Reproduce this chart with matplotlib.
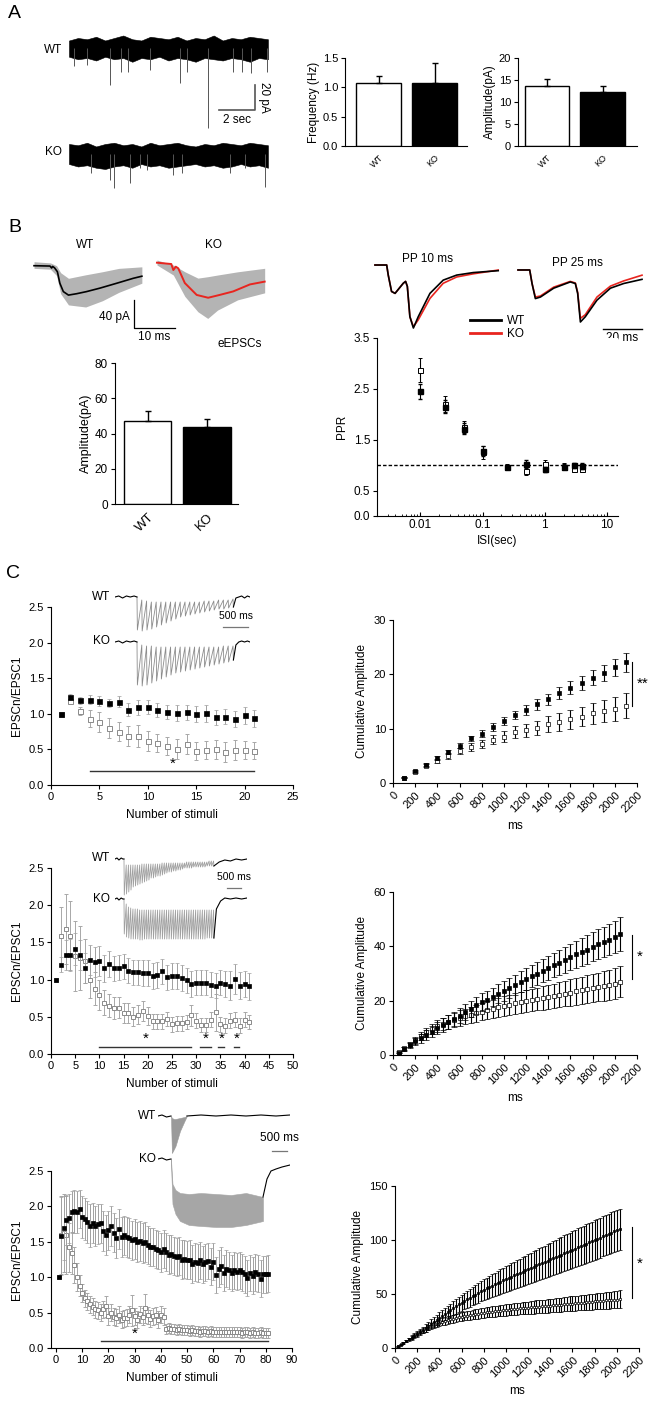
import numpy as np
import matplotlib
matplotlib.use('Agg')
import matplotlib.pyplot as plt
from matplotlib.lines import Line2D
from matplotlib.ticker import NullFormatter, LogLocator

plt.rcParams['font.family'] = ['Liberation Sans', 'DejaVu Sans']
plt.rcParams['axes.linewidth'] = 0.8
for a in ('x', 'y'):
    plt.rcParams[a + 'tick.major.width'] = 0.8
    plt.rcParams[a + 'tick.major.size'] = 3
    plt.rcParams[a + 'tick.direction'] = 'out'
    plt.rcParams[a + 'tick.major.pad'] = 2

W, H = 652, 1401
fig = plt.figure(figsize=(W / 100, H / 100), dpi=100)


def px_axes(x0, y0, x1, y1):
    return fig.add_axes([x0 / W, 1 - y1 / H, (x1 - x0) / W, (y1 - y0) / H])


def ftext(x, y, s, **kw):
    fig.text(x / W, 1 - y / H, s, **kw)


def style(ax, fs=8):
    ax.spines['top'].set_visible(False)
    ax.spines['right'].set_visible(False)
    ax.tick_params(labelsize=fs)


# ======================= DATA =======================
groups = ['WT', 'KO']
# Panel A
a_freq = [1.07, 1.07]
a_freq_err = [0.13, 0.34]
a_amp = [13.7, 12.3]
a_amp_err = [1.6, 1.3]
a_time = [0, 0.5, 1, 1.5, 2, 2.5, 3, 3.5, 4, 4.5, 5, 5.5, 6, 6.5, 7, 7.5, 8, 8.5, 9, 9.5, 10, 10.5, 11]
a_wt_upper = [6, 8, 7, 9, 6, 8, 10, 7, 6, 9, 8, 7, 9, 6, 8, 7, 10, 6, 8, 7, 9, 8, 7]
a_wt_lower = [-7, -9, -8, -10, -7, -9, -8, -11, -8, -9, -7, -10, -8, -9, -11, -8, -9, -10, -8, -9, -11, -8, -9]
a_ko_upper = [8, 7, 9, 6, 8, 9, 7, 8, 6, 9, 7, 8, 9, 7, 6, 8, 7, 9, 8, 7, 9, 8, 7]
a_ko_lower = [-8, -10, -9, -11, -12, -10, -9, -11, -8, -10, -9, -11, -10, -9, -8, -10, -9, -11, -10, -8, -10, -9, -11]
a_wt_spike_t = [0.3, 1.0, 2.27, 2.87, 3.26, 4.48, 6.13, 6.52, 7.68, 9.06, 9.56, 10.06, 10.94]
a_wt_spike_amp = [-14, -13.6, -29.6, -19.2, -19.2, -17.6, -28, -19, -64, -19, -19, -20, -19]
a_ko_spike_t = [1.22, 2.27, 2.49, 3.37, 3.92, 4.31, 5.75, 6.24, 8.9, 9.72, 10.83]
a_ko_spike_amp = [-15, -21, -27, -23, -11, -13, -17, -15, -15, -11, -26]

# Panel B eEPSC traces (ms, pA)
b_wt_t = [0, 3.9, 4.3, 4.55, 5.0, 5.7, 6.3, 7.15, 8.4, 10.4, 12.8, 16.1, 20.2, 24.2, 26.3]
b_wt_i = [0, -0.5, -3.3, -1.0, -3, -8.6, -25, -37, -42, -40, -37, -32, -25, -18, -15]
b_wt_env_t = [0, 4, 5.5, 6.5, 8.4, 12.6, 16.7, 20.7, 26.3]
b_wt_env_hi = [5.7, 4, 0, -10, -18, -13, -8.6, -3.8, -1.6]
b_wt_env_lo = [-3.8, -5, -14, -40, -56, -59, -50, -38, -25]
b_ko_t = [0, 3.5, 4.0, 4.6, 5.2, 6.8, 9.7, 12.5, 15.3, 18.6, 22.7, 26.3]
b_ko_i = [0, -1.9, -10.5, -5.7, -8, -29, -46, -50, -46, -41, -31, -27]
b_ko_env_t = [0, 4.0, 6.8, 10.0, 12.4, 14.8, 19.7, 26.3]
b_ko_env_hi = [3.8, -3.3, -12.9, -22, -20, -17.6, -13, -8]
b_ko_env_lo = [-3.3, -17.6, -48, -70, -79.5, -67.6, -53, -43]
b_amp = [47, 43.5]
b_amp_err = [6, 5]

# paired-pulse traces (ms, normalised)
pp10_t = [0, 6, 6.8, 8.5, 10.3, 14.5, 15.7, 16.6, 17.9, 19.7, 22.2, 28.2, 35, 41.9, 50.4, 63.2]
pp10_wt = [0, 0, -0.16, -0.42, -0.45, -0.29, -0.26, -0.34, -0.82, -1.0, -0.82, -0.45, -0.24, -0.16, -0.12, -0.09]
pp10_ko = [0, 0, -0.16, -0.42, -0.45, -0.29, -0.26, -0.34, -0.82, -0.98, -0.87, -0.53, -0.29, -0.19, -0.14, -0.08]
pp25_t = [0, 6, 7.2, 8.9, 11.5, 18.3, 26.8, 29.4, 30.6, 32, 34.5, 40.5, 47.4, 54.2, 63.6]
pp25_wt = [0, 0, -0.26, -0.55, -0.52, -0.35, -0.23, -0.26, -0.45, -1.0, -0.9, -0.58, -0.35, -0.26, -0.18]
pp25_ko = [0, 0, -0.26, -0.52, -0.50, -0.33, -0.22, -0.25, -0.43, -0.93, -0.86, -0.52, -0.31, -0.21, -0.10]

# PPR
ppr_isi = [0.01, 0.025, 0.05, 0.1, 0.25, 0.5, 1, 2, 3, 4]
ppr_wt = [2.45, 2.15, 1.72, 1.28, 0.97, 1.03, 0.92, 0.97, 1.00, 0.98]
ppr_wt_err = [0.15, 0.13, 0.10, 0.10, 0.04, 0.07, 0.05, 0.05, 0.05, 0.06]
ppr_ko = [2.87, 2.20, 1.75, 1.25, 0.97, 0.88, 1.03, 0.97, 0.93, 0.93]
ppr_ko_err = [0.24, 0.15, 0.12, 0.12, 0.05, 0.07, 0.08, 0.07, 0.06, 0.06]

# Panel C, 10 Hz
c1_wt = [1.0, 1.24, 1.19, 1.20, 1.18, 1.15, 1.17, 1.06, 1.09, 1.10, 1.05, 1.03, 1.01, 1.02, 1.00, 1.01, 0.95, 0.96, 0.93, 0.98, 0.94]
c1_wt_err = [0, 0.04, 0.05, 0.06, 0.07, 0.06, 0.08, 0.09, 0.10, 0.10, 0.10, 0.10, 0.11, 0.11, 0.11, 0.12, 0.11, 0.11, 0.11, 0.12, 0.12]
c1_ko = [1.0, 1.18, 1.04, 0.93, 0.88, 0.80, 0.75, 0.69, 0.69, 0.62, 0.59, 0.55, 0.51, 0.57, 0.48, 0.49, 0.50, 0.47, 0.49, 0.49, 0.48]
c1_ko_err = [0, 0.03, 0.06, 0.12, 0.14, 0.14, 0.13, 0.14, 0.15, 0.14, 0.13, 0.13, 0.14, 0.14, 0.13, 0.13, 0.13, 0.14, 0.14, 0.13, 0.12]
c1_cum_t = [100, 200, 300, 400, 500, 600, 700, 800, 900, 1000, 1100, 1200, 1300, 1400, 1500, 1600, 1700, 1800, 1900, 2000, 2100]
c1_cum_wt = [1.0, 2.15, 3.4, 4.6, 5.7, 6.9, 8.2, 9.1, 10.3, 11.4, 12.5, 13.4, 14.5, 15.4, 16.5, 17.5, 18.4, 19.4, 20.3, 21.3, 22.2]
c1_cum_wt_err = [0.1, 0.2, 0.3, 0.3, 0.4, 0.5, 0.5, 0.6, 0.7, 0.7, 0.8, 0.9, 1.0, 1.0, 1.1, 1.2, 1.3, 1.4, 1.5, 1.6, 1.7]
c1_cum_ko = [1.0, 2.1, 3.2, 4.1, 5.0, 5.9, 6.6, 7.2, 8.0, 8.5, 9.3, 9.7, 10.1, 10.8, 11.2, 11.7, 12.2, 12.8, 13.2, 13.7, 14.2]
c1_cum_ko_err = [0.1, 0.2, 0.3, 0.4, 0.5, 0.6, 0.7, 0.8, 0.9, 1.0, 1.1, 1.2, 1.3, 1.5, 1.6, 1.7, 1.8, 1.9, 2.0, 2.2, 2.3]

# Panel C, 20 Hz
c2_wt = [1.0, 1.20, 1.33, 1.33, 1.41, 1.33, 1.16, 1.26, 1.24, 1.25,
         1.15, 1.21, 1.15, 1.16, 1.18, 1.12, 1.10, 1.10, 1.09, 1.09,
         1.05, 1.06, 1.11, 1.03, 1.05, 1.05, 1.02, 0.99, 0.94, 0.96,
         0.96, 0.96, 0.93, 0.92, 0.96, 0.94, 0.92, 1.01, 0.92, 0.94, 0.91]
c2_wt_err = [0, 0.10, 0.20, 0.22, 0.22, 0.20, 0.20, 0.20, 0.20, 0.20,
             0.18, 0.18, 0.17, 0.17, 0.17, 0.17, 0.17, 0.17, 0.17, 0.17,
             0.17, 0.17, 0.17, 0.17, 0.17, 0.17, 0.17, 0.17, 0.17, 0.17,
             0.17, 0.17, 0.17, 0.17, 0.17, 0.17, 0.20, 0.20, 0.18, 0.18, 0.18]
c2_ko = [1.0, 1.58, 1.68, 1.59, 1.32, 1.29, 1.25, 1.00, 0.88, 0.79,
         0.69, 0.65, 0.62, 0.62, 0.55, 0.55, 0.50, 0.53, 0.58, 0.51,
         0.44, 0.44, 0.44, 0.47, 0.40, 0.41, 0.41, 0.43, 0.52, 0.45,
         0.39, 0.39, 0.46, 0.56, 0.40, 0.38, 0.45, 0.46, 0.38, 0.46, 0.43]
c2_ko_err = [0, 0.40, 0.47, 0.46, 0.47, 0.43, 0.30, 0.25, 0.22, 0.20,
             0.17, 0.15, 0.15, 0.14, 0.13, 0.13, 0.13, 0.13, 0.13, 0.12,
             0.10, 0.10, 0.10, 0.10, 0.10, 0.10, 0.10, 0.10, 0.14, 0.10,
             0.10, 0.10, 0.10, 0.25, 0.10, 0.10, 0.10, 0.10, 0.10, 0.10, 0.10]
c2_cum_wt = [0.9, 2.2, 3.6, 5.0, 6.1, 7.3, 8.6, 10.0, 11.0, 12.2,
             13.2, 14.4, 15.8, 17.0, 18.3, 19.5, 20.4, 21.4, 22.6, 23.6,
             24.8, 25.8, 27.0, 28.0, 29.0, 30.0, 31.1, 32.1, 33.1, 34.0,
             35.0, 36.0, 37.0, 37.9, 38.8, 39.8, 40.7, 41.6, 42.5, 43.5, 44.5]
c2_cum_wt_err = [0.3, 0.6, 1.0, 1.3, 1.6, 1.9, 2.1, 2.3, 2.5, 2.6,
                 2.7, 2.8, 2.9, 3.0, 3.1, 3.2, 3.3, 3.4, 3.5, 3.6,
                 3.7, 3.8, 3.9, 4.0, 4.1, 4.2, 4.3, 4.4, 4.5, 4.6,
                 4.7, 4.8, 4.9, 5.0, 5.2, 5.3, 5.5, 5.6, 5.8, 6.0, 6.2]
c2_cum_ko = [1.0, 2.4, 4.0, 5.4, 6.9, 8.3, 9.6, 10.6, 11.4, 12.2,
             12.9, 13.6, 14.2, 14.8, 15.4, 16.0, 16.5, 17.0, 17.5, 18.0,
             18.5, 19.0, 19.4, 19.8, 20.2, 20.6, 21.0, 21.4, 21.8, 22.2,
             22.6, 23.0, 23.4, 23.8, 24.2, 24.6, 25.0, 25.4, 25.8, 26.3, 26.9]
c2_cum_ko_err = [0.3, 0.6, 0.9, 1.2, 1.5, 1.7, 1.9, 2.1, 2.3, 2.5,
                 2.6, 2.8, 2.9, 3.0, 3.1, 3.2, 3.3, 3.4, 3.5, 3.6,
                 3.7, 3.8, 3.9, 4.0, 4.1, 4.2, 4.3, 4.4, 4.5, 4.6,
                 4.7, 4.8, 4.9, 5.0, 5.1, 5.2, 5.3, 5.4, 5.5, 5.6, 5.7]

# Panel C, 40 Hz
c3_wt = [1.00, 1.58, 1.70, 1.81, 1.83, 1.92, 1.93, 1.92, 1.96, 1.85,
         1.82, 1.78, 1.73, 1.77, 1.72, 1.75, 1.76, 1.65, 1.60, 1.66,
         1.72, 1.63, 1.55, 1.68, 1.57, 1.59, 1.57, 1.55, 1.52, 1.54,
         1.50, 1.51, 1.48, 1.50, 1.45, 1.43, 1.43, 1.40, 1.38, 1.35,
         1.40, 1.36, 1.32, 1.33, 1.30, 1.28, 1.30, 1.25, 1.26, 1.24,
         1.25, 1.19, 1.22, 1.20, 1.24, 1.18, 1.21, 1.23, 1.15, 1.22,
         1.03, 1.12, 1.16, 1.06, 1.12, 1.10, 1.06, 1.10, 1.08, 1.10,
         1.07, 1.04, 0.99, 1.06, 1.02, 1.07, 1.05, 0.98, 1.04, 1.04, 1.05]
c3_wt_err = [0, 0.55, 0.45, 0.35, 0.35, 0.30, 0.30, 0.30, 0.27, 0.30,
             0.30, 0.30, 0.30, 0.28, 0.28, 0.28, 0.28, 0.28, 0.28, 0.28,
             0.28, 0.28, 0.28, 0.28, 0.28, 0.28, 0.28, 0.28, 0.28, 0.28,
             0.28, 0.28, 0.28, 0.28, 0.27, 0.27, 0.27, 0.27, 0.27, 0.27,
             0.27, 0.27, 0.27, 0.27, 0.27, 0.27, 0.27, 0.27, 0.27, 0.27,
             0.27, 0.27, 0.27, 0.27, 0.26, 0.26, 0.26, 0.26, 0.26, 0.26,
             0.26, 0.26, 0.26, 0.26, 0.26, 0.26, 0.26, 0.26, 0.26, 0.26,
             0.26, 0.26, 0.26, 0.26, 0.26, 0.26, 0.26, 0.26, 0.26, 0.26, 0.26]
c3_ko = [1.00, 1.60, 1.62, 1.60, 1.42, 1.34, 1.17, 1.00, 0.88, 0.78,
         0.70, 0.66, 0.62, 0.58, 0.55, 0.53, 0.50, 0.55, 0.59, 0.45,
         0.50, 0.44, 0.43, 0.47, 0.40, 0.42, 0.43, 0.47, 0.53, 0.45,
         0.40, 0.48, 0.44, 0.56, 0.46, 0.41, 0.45, 0.46, 0.40, 0.47,
         0.44, 0.27, 0.28, 0.27, 0.27, 0.26, 0.27, 0.26, 0.25, 0.25,
         0.24, 0.25, 0.24, 0.24, 0.23, 0.24, 0.24, 0.23, 0.24, 0.23,
         0.23, 0.22, 0.23, 0.22, 0.23, 0.22, 0.22, 0.23, 0.22, 0.22,
         0.21, 0.22, 0.22, 0.21, 0.22, 0.21, 0.21, 0.22, 0.21, 0.21, 0.21]
c3_ko_err = [0, 0.55, 0.55, 0.55, 0.35, 0.30, 0.25, 0.20, 0.15, 0.13,
             0.12, 0.12, 0.12, 0.12, 0.12, 0.12, 0.12, 0.12, 0.15, 0.12,
             0.12, 0.12, 0.12, 0.12, 0.12, 0.12, 0.12, 0.12, 0.22, 0.12,
             0.12, 0.12, 0.12, 0.20, 0.12, 0.12, 0.12, 0.12, 0.12, 0.12,
             0.12, 0.07, 0.07, 0.07, 0.07, 0.07, 0.07, 0.07, 0.07, 0.07,
             0.07, 0.07, 0.07, 0.07, 0.07, 0.07, 0.07, 0.07, 0.07, 0.07,
             0.07, 0.07, 0.07, 0.07, 0.07, 0.07, 0.07, 0.07, 0.07, 0.07,
             0.07, 0.07, 0.07, 0.07, 0.07, 0.07, 0.07, 0.07, 0.07, 0.07, 0.07]
c3_cum_wt = [1.6, 3.2, 4.9, 6.5, 8.1, 9.7, 11.3, 13.0, 14.9, 16.7,
             18.6, 20.5, 22.4, 24.2, 26.1, 28.0, 29.8, 31.5, 33.3, 35.0,
             36.8, 38.5, 40.3, 42.0, 43.5, 45.0, 46.5, 48.0, 49.5, 51.0,
             52.5, 54.0, 55.2, 56.5, 57.7, 59.0, 60.2, 61.5, 62.7, 64.0,
             65.1, 66.2, 67.4, 68.5, 69.6, 70.7, 71.9, 73.0, 74.1, 75.2,
             76.4, 77.5, 78.6, 79.7, 80.9, 82.0, 83.1, 84.2, 85.4, 86.5,
             87.6, 88.7, 89.9, 91.0, 92.1, 93.2, 94.4, 95.5, 96.6, 97.7,
             98.9, 100.0, 101.1, 102.2, 103.4, 104.5, 105.6, 106.7, 107.9, 109.0, 110.0]
c3_cum_wt_err = [0.3, 0.6, 1.0, 1.3, 1.6, 1.9, 2.2, 2.5, 2.8, 3.1,
                 3.4, 3.7, 4.0, 4.3, 4.6, 4.9, 5.2, 5.5, 5.8, 6.1,
                 6.4, 6.7, 7.0, 7.3, 7.6, 7.9, 8.2, 8.5, 8.8, 9.1,
                 9.4, 9.7, 10.0, 10.2, 10.5, 10.7, 11.0, 11.2, 11.5, 11.7,
                 12.0, 12.2, 12.5, 12.7, 13.0, 13.2, 13.5, 13.7, 14.0, 14.2,
                 14.5, 14.7, 15.0, 15.2, 15.4, 15.6, 15.8, 16.0, 16.2, 16.4,
                 16.6, 16.8, 17.0, 17.2, 17.3, 17.5, 17.6, 17.8, 17.9, 18.1,
                 18.2, 18.3, 18.4, 18.5, 18.6, 18.7, 18.8, 18.9, 19.0, 19.0, 19.1]
c3_cum_ko = [1.6, 3.3, 4.9, 6.6, 8.2, 9.8, 11.4, 13.0, 14.5, 16.0,
             17.4, 18.8, 20.0, 21.2, 22.3, 23.3, 24.2, 25.0, 25.8, 26.5,
             27.2, 27.8, 28.4, 29.0, 29.5, 30.0, 30.5, 31.0, 31.4, 31.8,
             32.2, 32.6, 33.0, 33.3, 33.6, 34.0, 34.3, 34.6, 34.9, 35.2,
             35.5, 35.8, 36.0, 36.3, 36.6, 36.8, 37.1, 37.3, 37.6, 37.8,
             38.1, 38.3, 38.6, 38.8, 39.0, 39.3, 39.5, 39.8, 40.0, 40.2,
             40.5, 40.7, 41.0, 41.2, 41.4, 41.7, 41.9, 42.1, 42.4, 42.6,
             42.8, 43.1, 43.3, 43.5, 43.8, 44.0, 44.2, 44.5, 44.7, 44.9, 45.2]
c3_cum_ko_err = [0.3, 0.5, 0.7, 0.9, 1.1, 1.3, 1.5, 1.7, 1.9, 2.1,
                 2.3, 2.5, 2.7, 2.8, 2.9, 3.0, 3.2, 3.3, 3.4, 3.5,
                 3.6, 3.7, 3.8, 3.9, 4.0, 4.1, 4.2, 4.3, 4.4, 4.5,
                 4.6, 4.6, 4.7, 4.8, 4.9, 4.9, 5.0, 5.1, 5.1, 5.2,
                 5.3, 5.3, 5.4, 5.5, 5.5, 5.6, 5.7, 5.7, 5.8, 5.9,
                 5.9, 6.0, 6.1, 6.1, 6.2, 6.3, 6.3, 6.4, 6.5, 6.5,
                 6.6, 6.7, 6.7, 6.8, 6.9, 6.9, 7.0, 7.1, 7.1, 7.2,
                 7.3, 7.3, 7.4, 7.5, 7.5, 7.6, 7.7, 7.8, 7.9, 8.0, 8.1]

# inset train traces (ms, pA-like units; depth below baseline per stimulus)
c1_tr_wt_trough = [33, 34, 33, 32, 30, 28, 26, 24, 22, 20, 19, 18, 17, 16, 15, 14, 13, 12, 12, 11, 10]
c1_tr_wt_peak = [0, 3, 4, 5, 5, 5, 5, 5, 5, 5, 5, 5, 5, 5, 4, 4, 4, 3, 3, 3, 2]
c1_tr_ko_trough = [43, 44, 43, 41, 39, 37, 35, 33, 31, 30, 29, 28, 27, 26, 25, 24, 23, 22, 21, 20, 18]
c1_tr_ko_peak = [0, 3, 4, 4, 5, 5, 5, 5, 5, 5, 5, 5, 5, 5, 5, 5, 5, 5, 4, 4, 4]
c2_tr_wt_trough = [36, 35, 33, 31, 28, 27, 26, 25, 24, 23, 22, 21, 19, 19, 18, 17, 17, 16, 15, 14,
                   13, 13, 12, 12, 11, 11, 10, 9, 9, 9, 9, 8, 8, 8, 8, 8, 8, 7, 7, 7, 7]
c2_tr_wt_peak = [0, 6, 6, 6, 6, 6, 6, 6, 5, 5, 5, 5, 5, 5, 5, 5, 5, 4, 4, 4,
                 4, 4, 4, 4, 4, 4, 4, 4, 3, 3, 3, 3, 3, 3, 3, 3, 3, 3, 2, 2, 2]
c2_tr_ko_trough = [35, 38, 39, 40, 40, 40, 40, 41, 41, 40, 40, 40, 40, 40, 40, 40, 40, 40, 40, 40,
                   40, 40, 40, 40, 40, 40, 40, 40, 40, 40, 40, 40, 40, 40, 40, 40, 40, 39, 39, 39, 39]
c2_tr_ko_peak = [0, 5, 8, 9, 10, 10, 10, 11, 11, 11, 11, 11, 11, 11, 11, 11, 11, 11, 11, 11,
                 11, 11, 11, 11, 11, 11, 11, 11, 11, 11, 11, 11, 11, 11, 11, 11, 11, 11, 11, 11, 11]
c3_wt_env_t = [0, 30, 100, 150, 300, 450, 530]
c3_wt_env_hi = [0, -2, -3, -3, -2, -1, 0]
c3_wt_env_lo = [0, -37, -33, -30, -15, -5, 0]
c3_ko_env_t = [0, 50, 150, 300, 600, 1000, 1500, 2000, 2500, 3067]
c3_ko_env_hi = [0, -25, -31, -34, -35, -34, -35, -36, -34, -38]
c3_ko_env_lo = [-5, -45, -55, -62, -66, -67, -68, -68, -66, -62]

# ======================= PANEL A =======================
ftext(8, 14, 'A', fontsize=14, va='center')


def noisy_trace(ax, upper, lower, spk_t, spk_a):
    ax.fill_between(a_time, lower, upper, color='black', lw=0.4, edgecolor='black')
    ax.vlines(spk_t, spk_a, 0, color='#555555', lw=0.7)
    ax.axis('off')


ax = px_axes(69, 28, 275, 132)
ax.set_xlim(0, 11.39)
ax.set_ylim(-67.2, 16)
noisy_trace(ax, a_wt_upper, a_wt_lower, a_wt_spike_t, a_wt_spike_amp)
ax.plot([8.29, 10.28, 10.28], [-49.6, -49.6, -29.6], color='#555555', lw=1.2)
ax.text(10.45, -39.6, '20 pA', rotation=-90, va='center', ha='left', fontsize=8.5)
ax.text(9.3, -52.5, '2 sec', va='top', ha='center', fontsize=8.5)
ax = px_axes(69, 135, 275, 195)
ax.set_xlim(0, 11.39)
ax.set_ylim(-32.8, 15.2)
noisy_trace(ax, a_ko_upper, a_ko_lower, a_ko_spike_t, a_ko_spike_amp)
ftext(53, 50, 'WT', fontsize=8.5, ha='center', va='center')
ftext(53, 152, 'KO', fontsize=8.5, ha='center', va='center')


def bar_panel(ax, vals, errs, ylim, yticks, ylabel, fs_tick, fs_x, xl):
    ax.bar([0, 1], vals, width=0.8, color=['white', 'black'], edgecolor='black', lw=1.0)
    ax.errorbar([0, 1], vals, yerr=[[0, 0], errs], fmt='none', ecolor='black',
                elinewidth=1.0, capsize=2, capthick=1.0)
    ax.set_xlim(*xl)
    ax.set_ylim(*ylim)
    ax.set_yticks(yticks)
    style(ax, fs_tick)
    ax.set_xticks([0, 1])
    ax.set_xticklabels(groups, rotation=45, ha='right', va='top', rotation_mode='anchor',
                       fontsize=fs_x)
    ax.tick_params(axis='x', length=0, pad=5)
    ax.set_ylabel(ylabel, fontsize=fs_tick + 0.5, labelpad=2)


ax = px_axes(345, 58, 467, 146)
bar_panel(ax, a_freq, a_freq_err, (0, 1.5), [0, 0.5, 1.0, 1.5], 'Frequency (Hz)', 8, 6.5, (-0.6, 1.58))
ax.set_yticklabels(['0.0', '0.5', '1.0', '1.5'])
ax = px_axes(518, 58, 637, 146)
bar_panel(ax, a_amp, a_amp_err, (0, 20), [0, 5, 10, 15, 20], 'Amplitude(pA)', 8, 6.5, (-0.52, 1.62))

# ======================= PANEL B =======================
ftext(8, 228, 'B', fontsize=14, va='center')
ax = px_axes(30, 255, 180, 335)
ax.set_xlim(-0.98, 35.6)
ax.set_ylim(-99, 15.3)
ax.axis('off')
ax.fill_between(b_wt_env_t, b_wt_env_lo, b_wt_env_hi, color='#b4b4b4', lw=0)
ax.plot(b_wt_t, b_wt_i, color='black', lw=1.2)
ax.plot([24.4, 24.4, 34.4], [-49, -89, -89], color='black', lw=0.9)
ax.text(23.3, -73, '40 pA', ha='right', va='center', fontsize=8.5)
ax.text(29.4, -93, '10 ms', ha='center', va='top', fontsize=8.5)

ax = px_axes(150, 250, 270, 330)
ax.set_xlim(-1.7, 27.6)
ax.set_ylim(-96, 18.1)
ax.axis('off')
ax.fill_between(b_ko_env_t, b_ko_env_lo, b_ko_env_hi, color='#b4b4b4', lw=0)
ax.plot(b_ko_t, b_ko_i, color='#e8251f', lw=1.4)
ftext(85, 245, 'WT', fontsize=8.5, ha='center', va='center')
ftext(213, 245, 'KO', fontsize=8.5, ha='center', va='center')
ftext(240, 344, 'eEPSCs', fontsize=8.5, ha='center', va='center')

ax = px_axes(115, 363, 238, 504)
bar_panel(ax, b_amp, b_amp_err, (0, 80), [0, 20, 40, 60, 80], 'Amplitude(pA)', 8.5, 9.5, (-0.55, 1.52))

# paired pulse traces
ax = px_axes(370, 255, 505, 335)
ax.set_xlim(-2.56, 66.7)
ax.set_ylim(-1.111, 0.159)
ax.axis('off')
ax.plot(pp10_t, pp10_ko, color='#e8251f', lw=1.2)
ax.plot(pp10_t, pp10_wt, color='black', lw=1.2)
ftext(427, 259, 'PP 10 ms', fontsize=8.5, ha='center', va='center')

ax = px_axes(512, 255, 650, 335)
ax.set_xlim(-3.08, 67.7)
ax.set_ylim(-1.25, 0.288)
ax.axis('off')
ax.plot(pp25_t, pp25_ko, color='#e8251f', lw=1.2)
ax.plot(pp25_t, pp25_wt, color='black', lw=1.2)
ax.plot([43.6, 63.6], [-1.135, -1.135], color='black', lw=1.0)
ax.text(53.6, -1.19, '20 ms', ha='center', va='top', fontsize=8.5)
ftext(577, 263, 'PP 25 ms', fontsize=8.5, ha='center', va='center')

# PPR
ax = px_axes(377, 338, 618, 516)
ax.set_xscale('log')
ax.axhline(1.0, color='black', lw=1.0, ls=(0, (2.5, 1.5)))
ax.errorbar(ppr_isi, ppr_ko, yerr=ppr_ko_err, fmt='s', ms=3.6, mfc='white', mec='black',
            mew=0.7, ecolor='black', elinewidth=0.8, capsize=1.5, zorder=3)
ax.errorbar(ppr_isi, ppr_wt, yerr=ppr_wt_err, fmt='s', ms=3.6, mfc='black', mec='black',
            ecolor='black', elinewidth=0.8, capsize=1.5, zorder=4)
ax.set_xlim(0.00202, 15.0)
ax.set_ylim(0, 3.5)
ax.set_yticks([0, 0.5, 1.5, 2.5, 3.5])
ax.set_yticklabels(['0.0', '0.5', '1.5', '2.5', '3.5'])
ax.set_xticks([0.01, 0.1, 1, 10])
ax.set_xticklabels(['0.01', '0.1', '1', '10'])
ax.xaxis.set_minor_locator(LogLocator(base=10, subs=np.arange(2, 10) * 1.0, numticks=20))
ax.xaxis.set_minor_formatter(NullFormatter())
ax.tick_params(axis='x', which='minor', length=1.8, width=0.6, direction='in')
ax.tick_params(axis='x', which='major', direction='in', length=3)
style(ax, 8.5)
ax.set_ylabel('PPR', fontsize=8.5, labelpad=4)
ax.set_xlabel('ISI(sec)', fontsize=8.5, labelpad=3)
ax.legend(handles=[Line2D([], [], color='black', lw=2), Line2D([], [], color='#e8251f', lw=2)],
          labels=['WT', 'KO'], loc='upper left', bbox_to_anchor=(470 / W, 1 - 315 / H),
          bbox_transform=fig.transFigure, frameon=False, fontsize=8.5, handlelength=2.6,
          handletextpad=0.5, labelspacing=0.1, borderpad=0, borderaxespad=0)

# ======================= PANEL C =======================
ftext(6, 573, 'C', fontsize=14, va='center')


def ratio_panel(ax, wt, wt_err, ko, ko_err, ms, xlim, xticks):
    n = np.arange(1, len(wt) + 1)
    ax.errorbar(n, ko, yerr=ko_err, fmt='s', ms=ms, mfc='white', mec='#8a8a8a', mew=0.7,
                ecolor='#a8a8a8', elinewidth=0.7, capsize=1.5, capthick=0.7, zorder=3)
    ax.errorbar(n, wt, yerr=wt_err, fmt='s', ms=ms, mfc='black', mec='black', mew=0.5,
                ecolor='#a0a0a0', elinewidth=0.7, capsize=1.5, capthick=0.7, zorder=4)
    ax.set_ylim(0, 2.5)
    ax.set_yticks([0, 0.5, 1.0, 1.5, 2.0, 2.5])
    ax.set_yticklabels(['0.0', '0.5', '1.0', '1.5', '2.0', '2.5'])
    ax.set_xlim(*xlim)
    ax.set_xticks(xticks)
    style(ax, 8)
    ax.set_ylabel('EPSCn/EPSC1', fontsize=8.5, labelpad=4)
    ax.set_xlabel('Number of stimuli', fontsize=8.5, labelpad=5)


def sig(ax, x0, x1, y, xs):
    ax.plot([x0, x1], [y, y], color='#333333', lw=1.0)
    ax.text(xs, y + 0.005, '*', ha='center', va='bottom', fontsize=11)


def cum_panel(ax, t, wt, wt_err, ko, ko_err, ms, cap, ylim, yticks):
    ax.errorbar(t, ko, yerr=ko_err, fmt='s', ms=ms, mfc='white', mec='black', mew=0.5,
                ecolor='black', elinewidth=0.8, capsize=cap, capthick=0.8, zorder=3)
    ax.errorbar(t, wt, yerr=wt_err, fmt='s', ms=ms, mfc='black', mec='black', mew=0.5,
                ecolor='black', elinewidth=0.8, capsize=cap, capthick=0.8, zorder=4)
    ax.set_xlim(0, 2200)
    ax.set_xticks(range(0, 2201, 200))
    ax.set_xticklabels([str(v) for v in range(0, 2201, 200)], rotation=45, ha='right',
                       va='top', rotation_mode='anchor')
    ax.set_ylim(*ylim)
    ax.set_yticks(yticks)
    style(ax, 8)
    ax.set_ylabel('Cumulative Amplitude', fontsize=8.5, labelpad=4)
    ax.set_xlabel('ms', fontsize=8.5, labelpad=4)


def train_trace(ax, t0, dt, peaks, troughs, pre_t, pre_y, post_t, post_y, rise, col):
    ts, ys = [], []
    for i, (p, q) in enumerate(zip(peaks, troughs)):
        ts += [t0 + i * dt, t0 + i * dt + rise]
        ys += [-p, -q]
    ax.plot(ts, ys, color=col, lw=0.6)
    ax.plot(list(pre_t) + [ts[0]], list(pre_y) + [ys[0]], color='black', lw=0.8)
    ax.plot([ts[-1]] + list(post_t), [ys[-1]] + list(post_y), color='black', lw=0.8)


# ---- C row 1 (10 Hz)
ax = px_axes(51, 607, 293, 785)
ratio_panel(ax, c1_wt, c1_wt_err, c1_ko, c1_ko_err, 3.6, (0, 25), [0, 5, 10, 15, 20, 25])
sig(ax, 4, 21, 0.19, 12.6)
ax = px_axes(393, 620, 637, 783)
cum_panel(ax, c1_cum_t, c1_cum_wt, c1_cum_wt_err, c1_cum_ko, c1_cum_ko_err, 2.6, 2, (0, 30), [0, 10, 20, 30])
ax.plot([2155, 2155], [14.2, 22.2], color='black', lw=0.8, clip_on=False)
ax.text(2200, 18.2, '**', ha='left', va='center', fontsize=11)

# insets row 1
ax = px_axes(115, 590, 250, 640)
ax.set_xlim(-458, 2354)
ax.set_ylim(-43, 7)
ax.axis('off')
train_trace(ax, 0, 100, c1_tr_wt_peak, c1_tr_wt_trough,
            [-458, -380, -300, -220, -140, -60], [0, 1, -1, 1, 0, 1],
            [2060, 2120, 2180, 2240, 2300, 2354], [-1, 0, 1, -1, 1, 0], 8, '#8c8c8c')
ax.plot([1792, 2313], [-30, -30], color='#777777', lw=0.9)
ax.text(2052, -24, '500 ms', ha='center', va='bottom', fontsize=7.5)
ax = px_axes(115, 635, 250, 692)
ax.set_xlim(-458, 2354)
ax.set_ylim(-50, 7)
ax.axis('off')
train_trace(ax, 0, 100, c1_tr_ko_peak, c1_tr_ko_trough,
            [-458, -380, -300, -220, -140, -60], [0, 1, -1, 1, 0, 1],
            [2060, 2120, 2180, 2240, 2300, 2354], [-3, 0, 1, 0, 1, 0], 8, '#8c8c8c')
ftext(101, 597, 'WT', fontsize=8.5, ha='center', va='center')
ftext(101, 641, 'KO', fontsize=8.5, ha='center', va='center')

# ---- C row 2 (20 Hz)
ax = px_axes(51, 868, 293, 1054)
ratio_panel(ax, c2_wt, c2_wt_err, c2_ko, c2_ko_err, 3.4, (0, 50), list(range(0, 51, 5)))
sig(ax, 10, 29, 0.1, 19.5)
sig(ax, 30.7, 33.1, 0.1, 31.9)
sig(ax, 34.6, 35.8, 0.1, 35.2)
sig(ax, 37.9, 38.9, 0.1, 38.4)
ax = px_axes(393, 892, 637, 1055)
c2_t = np.arange(1, len(c2_cum_wt) + 1) * 50
cum_panel(ax, c2_t, c2_cum_wt, c2_cum_wt_err, c2_cum_ko, c2_cum_ko_err, 2.3, 2, (0, 60), [0, 20, 40, 60])
ax.plot([2155, 2155], [28, 44], color='black', lw=0.8, clip_on=False)
ax.text(2195, 36, '*', ha='left', va='center', fontsize=11)

ax = px_axes(115, 850, 247, 900)
ax.set_xlim(-321, 4393)
ax.set_ylim(-41, 9)
ax.axis('off')
train_trace(ax, 0, 80, c2_tr_wt_peak, c2_tr_wt_trough,
            [-321, -250, -180, -100, -40], [0, 1, -1, 1, 0],
            [3400, 3600, 3800, 4000, 4200, 4393], [-3, -1, -2, 0, -1, 0], 10, '#a0a0a0')
ax.plot([3679, 4179], [-29, -29], color='#777777', lw=0.9)
ax.text(3929, -23.5, '500 ms', ha='center', va='bottom', fontsize=7.5)
ax = px_axes(115, 890, 247, 945)
ax.set_xlim(-321, 4393)
ax.set_ylim(-46, 9)
ax.axis('off')
train_trace(ax, 0, 80, c2_tr_ko_peak, c2_tr_ko_trough,
            [-321, -250, -180, -100, -40], [0, 1, -1, 1, 0],
            [3300, 3450, 3600, 3800, 4000, 4200, 4393], [-10, -2, 1, 0, 1, 0, 1], 10, '#a0a0a0')
ftext(101, 858, 'WT', fontsize=8.5, ha='center', va='center')
ftext(101, 899, 'KO', fontsize=8.5, ha='center', va='center')

# ---- C row 3 (40 Hz)
ax = px_axes(51, 1171, 292, 1348)
ratio_panel(ax, c3_wt, c3_wt_err, c3_ko, c3_ko_err, 3.0, (-1.9, 90), list(range(0, 91, 10)))
sig(ax, 17, 81, 0.1, 30)
ax = px_axes(395, 1186, 639, 1348)
c3_t = np.arange(1, len(c3_cum_wt) + 1) * 25
cum_panel(ax, c3_t, c3_cum_wt, c3_cum_wt_err, c3_cum_ko, c3_cum_ko_err, 1.6, 1.5, (0, 150), [0, 50, 100, 150])
ax.plot([2135, 2135], [46, 112], color='black', lw=0.8, clip_on=False)
ax.text(2180, 78, '*', ha='left', va='center', fontsize=11)

ax = px_axes(158, 1106, 290, 1160)
ax.set_xlim(-433, 3967)
ax.set_ylim(-44, 10)
ax.axis('off')
ax.fill_between(c3_wt_env_t, c3_wt_env_lo, c3_wt_env_hi, color='#9a9a9a', lw=0.4)
ax.plot([-433, -300, -150, 0], [0, 1, -1, 0], color='black', lw=0.8)
ax.plot([530, 1000, 1500, 2000, 2500, 3000, 3500, 3967], [0, 1, 0, 1, 0, 1, 0, 1], color='black', lw=0.8)
ax.plot([3367, 3867], [-35, -35], color='#777777', lw=0.9)
ax.text(3617, -28, '500 ms', ha='center', va='bottom', fontsize=8.5)
ax = px_axes(158, 1152, 290, 1232)
ax.set_xlim(-433, 3967)
ax.set_ylim(-73, 7)
ax.axis('off')
ax.fill_between(c3_ko_env_t, c3_ko_env_lo, c3_ko_env_hi, color='#a6a6a6', lw=0.4)
ax.plot([-433, -300, -150, 0], [0, 1, -1, 0], color='black', lw=0.8)
ax.plot([3067, 3200, 3333, 3500, 3700, 3967], [-38, -20, -12, -10, -8, -6], color='black', lw=0.8)
ftext(147, 1116, 'WT', fontsize=8.5, ha='center', va='center')
ftext(147, 1159, 'KO', fontsize=8.5, ha='center', va='center')

fig.savefig('out.png', dpi=100)
